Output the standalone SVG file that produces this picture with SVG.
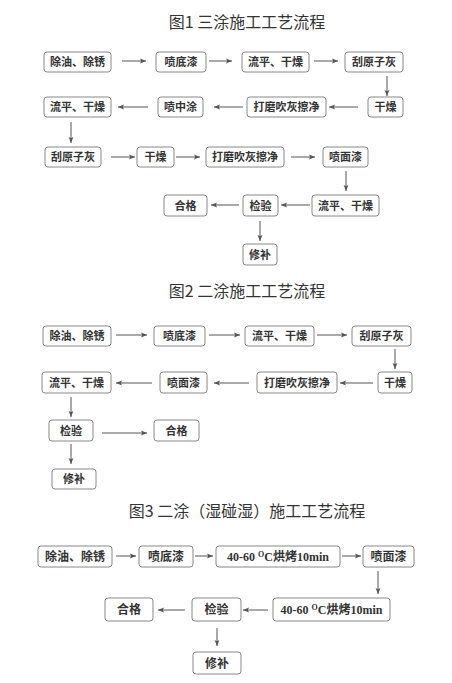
<svg xmlns="http://www.w3.org/2000/svg" width="452" height="683" viewBox="0 0 452 683">
<defs>
<marker id="ah" viewBox="0 0 8 8" refX="8" refY="4" markerWidth="6" markerHeight="6" markerUnits="userSpaceOnUse" orient="auto">
<path d="M0,0.8 L8,4 L0,7.2 L1.6,4 z" fill="#555"/>
</marker>
<style>
.title{font-family:"Noto Sans CJK SC","Noto Sans",sans-serif;font-size:16px;fill:#333;text-anchor:middle}
.box rect{fill:#fff;stroke:#888;stroke-width:1}
.box text{font-family:"Liberation Serif","Noto Sans CJK SC",serif;font-weight:bold;font-size:11px;fill:#333;text-anchor:middle}
.f3 .box text{font-size:12px}
.conn line{stroke:#555;stroke-width:1;marker-end:url(#ah)}
</style>
</defs>
<rect width="452" height="683" fill="#fff"/>

<!-- Figure 1 -->
<g id="fig1">
<text class="title" x="247" y="28">图1 三涂施工工艺流程</text>
<g id="f1n1" class="box"><rect x="44" y="52" width="67" height="20" rx="3"/><text x="77.5" y="66">除油、除锈</text></g>
<g id="f1n2" class="box"><rect x="156" y="52" width="50" height="20" rx="3"/><text x="181" y="66">喷底漆</text></g>
<g id="f1n3" class="box"><rect x="242" y="52" width="67" height="20" rx="3"/><text x="275.5" y="66">流平、干燥</text></g>
<g id="f1n4" class="box"><rect x="345" y="52" width="58" height="20" rx="3"/><text x="374" y="66">刮原子灰</text></g>
<g id="f1n5" class="box"><rect x="368" y="97" width="35" height="20" rx="3"/><text x="385.5" y="111">干燥</text></g>
<g id="f1n6" class="box"><rect x="247" y="97" width="79" height="20" rx="3"/><text x="286.5" y="111">打磨吹灰擦净</text></g>
<g id="f1n7" class="box"><rect x="158" y="97" width="45" height="20" rx="3"/><text x="180.5" y="111">喷中涂</text></g>
<g id="f1n8" class="box"><rect x="44" y="97" width="67" height="20" rx="3"/><text x="77.5" y="111">流平、干燥</text></g>
<g id="f1n9" class="box"><rect x="45" y="147" width="56" height="20" rx="3"/><text x="73" y="161">刮原子灰</text></g>
<g id="f1n10" class="box"><rect x="137" y="147" width="37" height="20" rx="3"/><text x="155.5" y="161">干燥</text></g>
<g id="f1n11" class="box"><rect x="206" y="147" width="78" height="20" rx="3"/><text x="245" y="161">打磨吹灰擦净</text></g>
<g id="f1n12" class="box"><rect x="323" y="147" width="45" height="20" rx="3"/><text x="345.5" y="161">喷面漆</text></g>
<g id="f1n13" class="box"><rect x="312" y="195" width="67" height="21" rx="3"/><text x="345.5" y="209.5">流平、干燥</text></g>
<g id="f1n14" class="box"><rect x="243" y="195" width="35" height="21" rx="3"/><text x="260.5" y="209.5">检验</text></g>
<g id="f1n15" class="box"><rect x="164" y="195" width="43" height="21" rx="3"/><text x="185.5" y="209.5">合格</text></g>
<g id="f1n16" class="box"><rect x="243" y="244" width="34" height="21" rx="3"/><text x="260" y="258.5">修补</text></g>
<g id="f1conn" class="conn">
<line x1="122" y1="61" x2="146" y2="61"/>
<line x1="209" y1="61" x2="232" y2="61"/>
<line x1="314" y1="61" x2="338" y2="61"/>
<line x1="387" y1="76" x2="387" y2="96"/>
<line x1="358" y1="107" x2="329" y2="107"/>
<line x1="243" y1="107" x2="214" y2="107"/>
<line x1="148" y1="107" x2="118" y2="107"/>
<line x1="71" y1="122" x2="71" y2="143"/>
<line x1="111" y1="157" x2="135" y2="157"/>
<line x1="176" y1="157" x2="200" y2="157"/>
<line x1="291" y1="157" x2="315" y2="157"/>
<line x1="346" y1="171" x2="346" y2="191"/>
<line x1="310" y1="205" x2="281" y2="205"/>
<line x1="239" y1="205" x2="211" y2="205"/>
<line x1="260" y1="221" x2="260" y2="241"/>
</g>
</g>

<!-- Figure 2 -->
<g id="fig2">
<text class="title" x="247" y="297">图2 二涂施工工艺流程</text>
<g id="f2n1" class="box"><rect x="43" y="326" width="68" height="20" rx="3"/><text x="77" y="340">除油、除锈</text></g>
<g id="f2n2" class="box"><rect x="154" y="326" width="51" height="20" rx="3"/><text x="179.5" y="340">喷底漆</text></g>
<g id="f2n3" class="box"><rect x="245" y="326" width="69" height="20" rx="3"/><text x="279.5" y="340">流平、干燥</text></g>
<g id="f2n4" class="box"><rect x="352" y="326" width="59" height="20" rx="3"/><text x="381.5" y="340">刮原子灰</text></g>
<g id="f2n5" class="box"><rect x="378" y="372" width="34" height="21" rx="3"/><text x="395" y="386.5">干燥</text></g>
<g id="f2n6" class="box"><rect x="257" y="372" width="80" height="21" rx="3"/><text x="297" y="386.5">打磨吹灰擦净</text></g>
<g id="f2n7" class="box"><rect x="160" y="372" width="47" height="21" rx="3"/><text x="183.5" y="386.5">喷面漆</text></g>
<g id="f2n8" class="box"><rect x="42" y="372" width="69" height="21" rx="3"/><text x="76.5" y="386.5">流平、干燥</text></g>
<g id="f2n9" class="box"><rect x="49" y="420" width="44" height="21" rx="3"/><text x="71" y="434.5">检验</text></g>
<g id="f2n10" class="box"><rect x="154" y="420" width="45" height="21" rx="3"/><text x="176.5" y="434.5">合格</text></g>
<g id="f2n11" class="box"><rect x="52" y="469" width="44" height="20" rx="3"/><text x="74" y="483">修补</text></g>
<g id="f2conn" class="conn">
<line x1="116" y1="335" x2="147" y2="335"/>
<line x1="209" y1="335" x2="240" y2="335"/>
<line x1="317" y1="335" x2="347" y2="335"/>
<line x1="395" y1="349" x2="395" y2="369"/>
<line x1="373" y1="383" x2="340" y2="383"/>
<line x1="249" y1="383" x2="214" y2="383"/>
<line x1="152" y1="383" x2="116" y2="383"/>
<line x1="71" y1="397" x2="71" y2="417"/>
<line x1="102" y1="433" x2="147" y2="433"/>
<line x1="71" y1="444" x2="71" y2="464"/>
</g>
</g>

<!-- Figure 3 -->
<g id="fig3" class="f3">
<text class="title" x="247" y="517">图3 二涂（湿碰湿）施工工艺流程</text>
<g id="f3n1" class="box"><rect x="38" y="546" width="74" height="21" rx="3"/><text x="75" y="561">除油、除锈</text></g>
<g id="f3n2" class="box"><rect x="139" y="546" width="54" height="21" rx="3"/><text x="166" y="561">喷底漆</text></g>
<g id="f3n3" class="box"><rect x="216" y="546" width="124" height="21" rx="3"/><text x="278" y="561">40-60 <tspan font-size="8" dy="-4">O</tspan><tspan dy="4">C烘烤10min</tspan></text></g>
<g id="f3n4" class="box"><rect x="363" y="546" width="51" height="21" rx="3"/><text x="388.5" y="561">喷面漆</text></g>
<g id="f3n5" class="box"><rect x="273" y="598" width="117" height="23" rx="3"/><text x="331.5" y="614">40-60 <tspan font-size="8" dy="-4">O</tspan><tspan dy="4">C烘烤10min</tspan></text></g>
<g id="f3n6" class="box"><rect x="192" y="598" width="49" height="23" rx="3"/><text x="216.5" y="614">检验</text></g>
<g id="f3n7" class="box"><rect x="105" y="598" width="48" height="23" rx="3"/><text x="129" y="614">合格</text></g>
<g id="f3n8" class="box"><rect x="193" y="652" width="48" height="22" rx="3"/><text x="217" y="667.5">修补</text></g>
<g id="f3conn" class="conn">
<line x1="116" y1="556" x2="136" y2="556"/>
<line x1="195" y1="556" x2="213" y2="556"/>
<line x1="342" y1="556" x2="361" y2="556"/>
<line x1="378" y1="571" x2="378" y2="594"/>
<line x1="268" y1="610" x2="243" y2="610"/>
<line x1="185" y1="610" x2="158" y2="610"/>
<line x1="217" y1="628" x2="217" y2="646"/>
</g>
</g>
</svg>
